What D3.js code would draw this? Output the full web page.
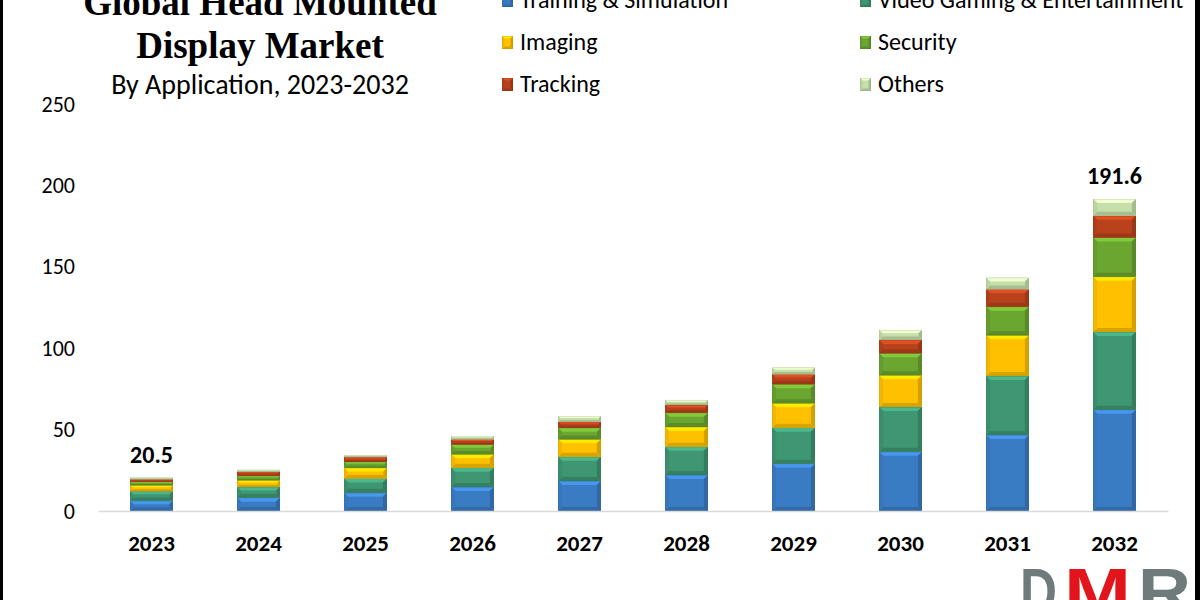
<!DOCTYPE html>
<html>
<head>
<meta charset="utf-8">
<script src="https://cdn.jsdelivr.net/npm/d3@7"></script>
<style>
    body { margin: 0; background: #fff; }
    svg { display: block; }
</style>
</head>
<body>
<div id="chart"></div>
<script>
// data
const years = ["2023", "2024", "2025", "2026", "2027", "2028", "2029", "2030", "2031", "2032"];
const segments = ["Training & Simulation", "Video Gaming & Entertainment", "Imaging", "Security", "Tracking", "Others"];
const training = [6.3, 8.2, 11.2, 14.7, 18.4, 22.1, 29.1, 36.4, 46.7, 62.2];
const videoGaming = [5.9, 6.6, 8.8, 11.9, 14.9, 17.4, 22.1, 27.5, 36.2, 47.8];
const imaging = [3.6, 4.1, 6.5, 8.2, 10.7, 12.1, 15.0, 19.5, 25.0, 33.9];
const security = [2.2, 2.7, 3.7, 6.1, 7.1, 8.8, 11.7, 13.5, 17.6, 24.1];
const tracking = [1.5, 2.5, 2.9, 3.1, 3.7, 4.7, 6.1, 8.2, 10.7, 13.3];
const others = [1.0, 1.2, 1.2, 2.0, 3.5, 3.1, 4.1, 6.1, 7.1, 10.3];
const yTicks = [0, 50, 100, 150, 200, 250];
const labelledYears = ["2023", "2032"];

function drawChart() {
    const W = 1200, H = 600;
    const sansFont = "Carlito, Calibri, Lato, sans-serif";
    const colors = ["#3a7cc4", "#3e9672", "#ffc000", "#6aa630", "#b8421c", "#c5dfaa"];

    let svg = d3.select("#chart").append("svg")
        .attr("width", W)
        .attr("height", H);

    svg.append("rect")
        .attr("width", W)
        .attr("height", H)
        .attr("fill", "#ffffff");

    //build rows for stack
    const series = [training, videoGaming, imaging, security, tracking, others];
    let rows = years.map(function(yr, i) {
        let row = {year: yr};
        segments.forEach(function(s, j) { row[s] = series[j][i]; });
        return row;
    });
    let stacked = d3.stack().keys(segments)(rows);
    let colorScale = d3.scaleOrdinal().domain(segments).range(colors);

    let x = d3.scaleBand().domain(years).range([98, 1168]).paddingInner(0.6).paddingOuter(0.3);
    let y = d3.scaleLinear().domain([0, 250]).range([511, 104]);

    // bevelled block like the office 3d bars
    function bevel(g, x0, y0, x1, y1, color, b) {
        let c = d3.color(color);
        g.append("rect")
            .attr("x", x0).attr("y", y0)
            .attr("width", x1 - x0).attr("height", y1 - y0)
            .attr("fill", color);
        const faces = [
            [[x0, y0], [x1, y0], [x1 - b, y0 + b], [x0 + b, y0 + b], c.brighter(0.55)],
            [[x0, y1], [x1, y1], [x1 - b, y1 - b], [x0 + b, y1 - b], c.darker(0.45)],
            [[x0, y0], [x0 + b, y0 + b], [x0 + b, y1 - b], [x0, y1], c.darker(0.15)],
            [[x1, y0], [x1 - b, y0 + b], [x1 - b, y1 - b], [x1, y1], c.darker(0.5)]
        ];
        faces.forEach(function(f) {
            g.append("polygon")
                .attr("points", f.slice(0, 4).map(p => p.join(",")).join(" "))
                .attr("fill", f[4]);
        });
        g.append("rect")
            .attr("x", x0 + 0.25).attr("y", y0 + 0.25)
            .attr("width", x1 - x0 - 0.5).attr("height", y1 - y0 - 0.5)
            .attr("fill", "none")
            .attr("stroke", c.darker(0.8))
            .attr("stroke-opacity", 0.5)
            .attr("stroke-width", 0.5);
    }

    //bars
    let bars = svg.append("g").attr("class", "bars");
    stacked.forEach(function(layer) {
        let col = colorScale(layer.key);
        layer.forEach(function(d) {
            let x0 = x(d.data.year), x1 = x0 + x.bandwidth();
            let yTop = y(d[1]), yBot = y(d[0]);
            let b = Math.min(4, (yBot - yTop) / 3);
            bevel(bars.append("g"), x0, yTop, x1, yBot, col, b);
        });
    });

    //x axis
    let xAxis = svg.append("g")
        .attr("transform", "translate(0,511)")
        .call(d3.axisBottom(x).tickSize(0).tickSizeOuter(0).tickPadding(24));
    xAxis.select(".domain").attr("stroke", "#d9d9d9").attr("stroke-width", 1.5);
    xAxis.selectAll("text")
        .attr("font-family", sansFont)
        .attr("font-size", 23)
        .attr("font-weight", "bold")
        .attr("fill", "#000");

    //y axis
    let yAxis = svg.append("g")
        .attr("transform", "translate(98,0)")
        .call(d3.axisLeft(y).tickValues(yTicks).tickSize(0).tickPadding(23));
    yAxis.select(".domain").remove();
    yAxis.selectAll("text")
        .attr("font-family", sansFont)
        .attr("font-size", 22)
        .attr("fill", "#000");

    //total labels
    let totals = rows.map(function(r) { return d3.sum(segments, s => r[s]); });
    svg.append("g").selectAll("text")
        .data(years.filter(yr => labelledYears.includes(yr)))
        .join("text")
        .attr("x", d => x(d) + x.bandwidth() / 2)
        .attr("y", d => y(totals[years.indexOf(d)]) - 15)
        .attr("text-anchor", "middle")
        .attr("font-family", sansFont)
        .attr("font-size", 24)
        .attr("font-weight", "bold")
        .attr("fill", "#000")
        .text(d => d3.format(".1f")(totals[years.indexOf(d)]));

    //title
    const titleLines = ["Global Head Mounted", "Display Market"];
    svg.append("g").selectAll("text")
        .data(titleLines)
        .join("text")
        .attr("x", 260)
        .attr("y", (d, i) => 15 + i * 43)
        .attr("text-anchor", "middle")
        .attr("font-family", "'Liberation Serif', 'Times New Roman', serif")
        .attr("font-size", 37)
        .attr("font-weight", "bold")
        .attr("fill", "#000")
        .text(d => d);
    svg.append("text")
        .attr("x", 260)
        .attr("y", 94)
        .attr("text-anchor", "middle")
        .attr("font-family", sansFont)
        .attr("font-size", 28)
        .attr("fill", "#000")
        .text("By Application, 2023-2032");

    //legend, two columns
    let legend = svg.append("g").attr("class", "legend");
    segments.forEach(function(s, i) {
        let col = i % 2, row = Math.floor(i / 2);
        let lx = col === 0 ? 502 : 860;
        let ly = 8 + row * 42;
        bevel(legend.append("g"), lx, ly - 14, lx + 11, ly - 1, colorScale(s), 2.5);
        legend.append("text")
            .attr("x", lx + 18)
            .attr("y", ly)
            .attr("font-family", sansFont)
            .attr("font-size", 24)
            .attr("fill", "#000")
            .text(s);
    });

    //logo in the corner
    const logoParts = [["D", 1020, 37, "#6e7b7a"], ["M", 1064, 67, "#e3151c"], ["R", 1138, 53, "#6e7b7a"]];
    svg.append("g").selectAll("text")
        .data(logoParts)
        .join("text")
        .attr("x", d => d[1])
        .attr("y", 614)
        .attr("textLength", d => d[2])
        .attr("lengthAdjust", "spacingAndGlyphs")
        .attr("font-family", "'Liberation Sans', Arial, sans-serif")
        .attr("font-size", 64)
        .attr("font-weight", "bold")
        .attr("fill", d => d[3])
        .text(d => d[0]);

    //frame edges
    svg.append("rect").attr("x", 0).attr("y", 0).attr("width", 3).attr("height", H).attr("fill", "#000");
    svg.append("rect").attr("x", 1195).attr("y", 0).attr("width", 5).attr("height", H).attr("fill", "#000");
}
drawChart();
</script>
</body>
</html>
